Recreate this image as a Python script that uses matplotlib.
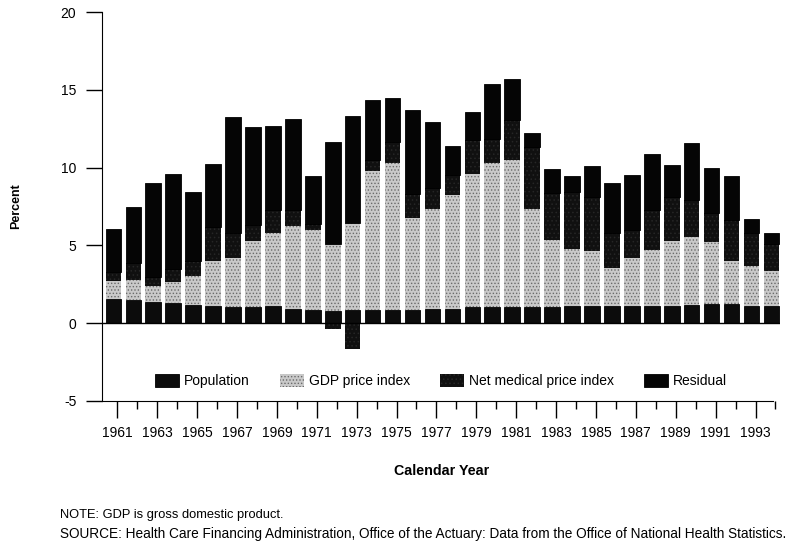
import numpy as np
import matplotlib.pyplot as plt
from matplotlib.patches import Patch

plt.rcParams['font.family'] = ['Liberation Sans', 'DejaVu Sans']
plt.rcParams['hatch.linewidth'] = 0.6

years = np.arange(1961, 1995)

# percentage point contributions to growth
population = np.array([1.54, 1.48, 1.37, 1.29, 1.20, 1.09, 1.01, 1.01, 1.09, 0.90,
                       0.82, 0.79, 0.82, 0.82, 0.82, 0.84, 0.92, 0.90, 1.05, 1.07,
                       1.07, 1.07, 1.07, 1.09, 1.09, 1.09, 1.09, 1.09, 1.09, 1.20,
                       1.22, 1.22, 1.09, 1.13])
gdp_price = np.array([1.18, 1.32, 1.05, 1.35, 1.84, 2.88, 3.17, 4.26, 4.72, 5.32,
                      5.20, 4.33, 5.61, 8.95, 9.48, 5.91, 6.43, 7.37, 8.55, 9.23,
                      9.45, 6.30, 4.28, 3.67, 3.56, 2.47, 3.11, 3.60, 4.20, 4.31,
                      4.01, 2.77, 2.60, 2.24])
net_medical = np.array([0.58, 1.10, 0.58, 0.86, 0.96, 2.23, 1.62, 1.03, 1.49, 1.08,
                        0.38, -0.37, -1.65, 0.73, 1.36, 1.55, 1.31, 1.23, 2.17, 1.57,
                        2.53, 3.98, 2.99, 3.68, 3.47, 2.21, 1.78, 2.58, 2.83, 2.42,
                        1.82, 2.63, 2.08, 1.75])
residual = np.array([2.75, 3.56, 6.00, 6.10, 4.40, 4.00, 7.47, 6.28, 5.40, 5.80,
                     3.03, 6.54, 6.87, 3.84, 2.79, 5.38, 4.27, 1.90, 1.78, 3.52,
                     2.62, 0.89, 1.56, 1.03, 1.98, 3.23, 3.54, 3.58, 2.02, 3.63,
                     2.90, 2.81, 0.94, 0.67])

labels = ['Population', 'GDP price index', 'Net medical price index', 'Residual']
series = [population, gdp_price, net_medical, residual]
styles = [
    dict(facecolor='#0c0c0c', edgecolor='black', linewidth=0.6),
    dict(facecolor='#c9c9c9', edgecolor='#6a6a6a', linewidth=0, hatch='.....'),
    dict(facecolor='#101010', edgecolor='#262626', linewidth=0, hatch='....'),
    dict(facecolor='#050505', edgecolor='black', linewidth=0.6),
]

fig = plt.figure(figsize=(7.98, 5.46), dpi=100)
ax = fig.add_axes([0.1278, 0.2656, 0.978 - 0.1278, 0.978 - 0.2656])

pos = np.zeros(len(years))
neg = np.zeros(len(years))
for vals, st in zip(series, styles):
    bottom = np.where(vals >= 0, pos, neg)
    ax.bar(years, vals, width=0.78, bottom=bottom, **st)
    pos = pos + np.where(vals >= 0, vals, 0)
    neg = neg + np.where(vals < 0, vals, 0)

ax.axhline(0, color='black', linewidth=1.0)

ax.set_xlim(1960.43, 1994.45)
ax.set_ylim(-5, 20)
ax.spines['top'].set_visible(False)
ax.spines['right'].set_visible(False)
ax.spines['bottom'].set_bounds(1960.43, 1994.06)

ax.set_yticks(np.arange(-5, 21, 5))
ax.set_yticklabels(['-5', '0', '5', '10', '15', '20'])
ax.tick_params(axis='y', direction='out', length=11.5, width=1.0, pad=7, labelsize=10)

odd = years[::2]
even = years[1::2]
ax.set_xticks(odd + 0.2)
ax.set_xticklabels([str(y) for y in odd])
ax.set_xticks(even + 0.2, minor=True)
ax.tick_params(axis='x', which='major', direction='out', length=12, width=1.0, pad=6, labelsize=10)
ax.tick_params(axis='x', which='minor', direction='out', length=6, width=1.0)

ax.set_ylabel('Percent', fontsize=9, fontweight='bold', labelpad=28)
ax.set_xlabel('Calendar Year', fontsize=10.3, fontweight='bold', labelpad=17)

handles = [Patch(**st) for st in styles]
ax.legend(handles, labels, loc='center', bbox_to_anchor=(0.5, 0.052), ncol=4,
          frameon=False, fontsize=10, handlelength=1.7, handleheight=1.1,
          handletextpad=0.35, columnspacing=2.2)

fig.text(60 / 798, 1 - 515 / 546, 'NOTE: GDP is gross domestic product.',
         fontsize=9.3, va='center', ha='left')
fig.text(60 / 798, 1 - 534 / 546,
         'SOURCE: Health Care Financing Administration, Office of the Actuary: '
         'Data from the Office of National Health Statistics.',
         fontsize=9.8, va='center', ha='left')

fig.savefig('out.png', dpi=100)
